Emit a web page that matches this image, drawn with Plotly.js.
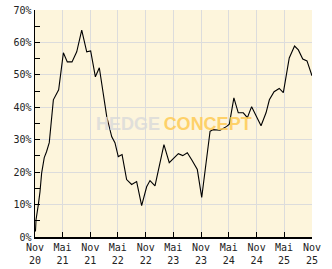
<!DOCTYPE html>
<html>
<head>
<meta charset="utf-8">
<script src="https://cdn.plot.ly/plotly-3.0.1.min.js"></script>
<style>
html,body{margin:0;padding:0;background:#fff;}
#chart{width:332px;height:269px;}
</style>
</head>
<body>
<div id="chart"></div>
<script>
const dates = ['2020-11-04','2020-11-08','2020-11-23','2020-12-04','2020-12-15','2021-01-01','2021-01-16','2021-02-03','2021-03-02','2021-03-19','2021-04-06','2021-05-07','2021-06-02','2021-07-03','2021-08-03','2021-09-05','2021-10-08','2021-11-03','2021-12-04','2021-12-30','2022-02-17','2022-03-22','2022-04-12','2022-05-04','2022-05-29','2022-06-28','2022-07-31','2022-09-02','2022-10-05','2022-11-07','2022-11-29','2023-01-01','2023-03-01','2023-04-05','2023-06-04','2023-07-03','2023-08-02','2023-08-31','2023-10-07','2023-11-05','2023-12-03','2023-12-30','2024-01-18','2024-03-05','2024-04-18','2024-05-05','2024-06-04','2024-07-03','2024-08-05','2024-09-01','2024-09-29','2024-11-01','2024-11-30','2025-01-02','2025-01-24','2025-02-24','2025-03-30','2025-04-26','2025-05-18','2025-06-04','2025-07-09','2025-08-03','2025-09-01','2025-09-29','2025-11-01'];
const values = [1.7,5.4,10.0,14.0,19.8,24.5,26.3,29.1,42.3,43.8,45.4,56.8,54.0,54.0,57.1,63.8,57.1,57.4,49.4,52.2,37.1,30.9,29.1,24.8,25.4,17.7,16.2,17.1,9.7,15.5,17.4,15.8,28.5,22.9,25.7,25.1,26.0,23.8,20.8,12.2,22.3,32.6,33.1,32.9,34.1,34.8,42.9,38.3,38.3,36.8,40.2,36.8,34.3,38.3,42.3,44.8,45.8,44.5,50.0,55.2,58.9,57.7,54.9,54.3,49.7];
const xTickVals = ['2020-11-01','2021-05-01','2021-11-01','2022-05-01','2022-11-01','2023-05-01','2023-11-01','2024-05-01','2024-11-01','2025-05-01','2025-11-01'];
const xTickText = ['Nov<br>20','Mai<br>21','Nov<br>21','Mai<br>22','Nov<br>22','Mai<br>23','Nov<br>23','Mai<br>24','Nov<br>24','Mai<br>25','Nov<br>25'];
const yTickVals = [0,10,20,30,40,50,60,70];
const yTickText = ['0%','10%','20%','30%','40%','50%','60%','70%'];

const tickFont = {family:'DejaVu Sans Mono, monospace', size:10, color:'#222'};
Plotly.newPlot('chart', [{
  x: dates, y: values, type:'scatter', mode:'lines',
  line:{color:'#000', width:1.1}, hoverinfo:'skip'
}], {
  width:332, height:269,
  margin:{l:35, r:20, t:10, b:32, pad:0},
  paper_bgcolor:'#ffffff', plot_bgcolor:'#fdf5dc',
  showlegend:false,
  xaxis:{type:'date', range:['2020-11-01','2025-11-01'], tickmode:'array', tickvals:xTickVals, ticktext:xTickText,
    showgrid:true, gridcolor:'#dcdcdc', gridwidth:1, showline:true, linecolor:'#000', linewidth:1.5,
    ticks:'inside', ticklen:5, tickcolor:'#000', tickfont:tickFont, zeroline:false, fixedrange:true},
  yaxis:{range:[0,70], tickmode:'array', tickvals:yTickVals, ticktext:yTickText,
    showgrid:true, gridcolor:'#dcdcdc', gridwidth:1, showline:true, linecolor:'#000', linewidth:1.5,
    ticks:'inside', ticklen:5, tickcolor:'#000', tickfont:tickFont, zeroline:false, fixedrange:true,
    minor:{tickmode:'linear', tick0:5, dtick:10, ticks:'inside', ticklen:5, tickcolor:'#000', showgrid:false}},
  annotations:[{xref:'paper', yref:'paper', x:0.5, y:0.5, xanchor:'center', yanchor:'middle', showarrow:false,
    opacity:0.8,
    text:'<span style="color:#dadada">HEDGE</span>&#8201;<span style="color:#ffc94d">CONCEPT</span>',
    font:{family:'Liberation Sans Narrow, Arial Narrow, sans-serif', size:18, weight:700}}]
}, {staticPlot:true, displayModeBar:false});
</script>
</body>
</html>
